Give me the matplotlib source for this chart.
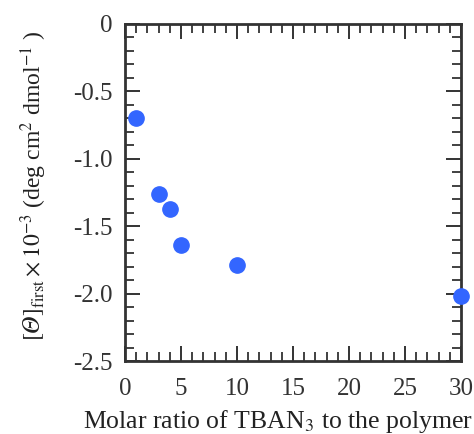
import matplotlib
matplotlib.use("Agg")
import matplotlib.pyplot as plt
from matplotlib.ticker import MultipleLocator

plt.rcParams['font.family'] = ['Liberation Serif', 'DejaVu Serif']
plt.rcParams['mathtext.fontset'] = 'stix'

# data
ratio = [1, 3, 4, 5, 10, 30]
theta = [-0.70, -1.26, -1.37, -1.64, -1.79, -2.02]

fig = plt.figure(figsize=(4.74, 4.34), dpi=100)
ax = fig.add_axes([125 / 474, 1 - 361 / 434, 336 / 474, 337 / 434])

ax.plot(ratio, theta, 'o', color='#3366ff', markersize=11, clip_on=False, zorder=3)

ax.set_xlim(0, 30)
ax.set_ylim(-2.5, 0)
ax.xaxis.set_major_locator(MultipleLocator(5))
ax.xaxis.set_minor_locator(MultipleLocator(1))
ax.yaxis.set_major_locator(MultipleLocator(0.5))
ax.yaxis.set_minor_locator(MultipleLocator(0.1))
ax.set_yticks([0, -0.5, -1.0, -1.5, -2.0, -2.5])
ax.set_yticklabels(['0', '-0.5', '-1.0', '-1.5', '-2.0', '-2.5'])

ax.tick_params(which='both', direction='in', top=True, right=True, labelsize=18,
               color='#333333', labelcolor='#333333')
ax.tick_params(which='major', length=11, width=1.4, pad=12)
ax.tick_params(which='minor', length=6.5, width=1.3)
ax.tick_params(axis='y', which='major', pad=9)
for s in ax.spines.values():
    s.set_linewidth(2.0)
    s.set_color('#333333')

ax.set_xlabel(r'Molar ratio of TBAN$_3$ to the polymer', fontsize=18.5, color='#222222')
ax.xaxis.set_label_coords(0.455, -0.14)
ax.set_ylabel(r'$[𝛩]_{\rm first}\times10^{-3}$ (deg cm$^{2}$ dmol$^{-1}$ )', fontsize=17,
              color='#222222')
ax.yaxis.set_label_coords(-0.225, 0.52)

fig.savefig('out.png', dpi=100)
